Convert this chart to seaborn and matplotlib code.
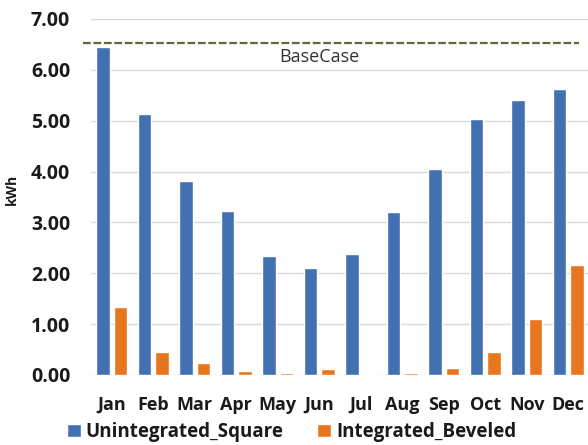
import matplotlib
matplotlib.use("Agg")
import matplotlib.pyplot as plt
import seaborn as sns
import pandas as pd

months = ["Jan", "Feb", "Mar", "Apr", "May", "Jun",
          "Jul", "Aug", "Sep", "Oct", "Nov", "Dec"]
unintegrated_square = [6.45, 5.14, 3.82, 3.22, 2.34, 2.11,
                       2.38, 3.21, 4.05, 5.04, 5.40, 5.63]
integrated_beveled = [1.33, 0.46, 0.23, 0.08, 0.03, 0.11,
                      0.01, 0.03, 0.13, 0.46, 1.11, 2.16]
series_names = ["Unintegrated_Square", "Integrated_Beveled"]
base_case = 6.52
y_ticks = [0, 1, 2, 3, 4, 5, 6, 7]

df = pd.DataFrame({
    "Month": months * 2,
    "kWh": unintegrated_square + integrated_beveled,
    "Series": [series_names[0]] * len(months) + [series_names[1]] * len(months),
})

sns.set_theme(style="white")
plt.rcParams["font.family"] = ["Open Sans", "DejaVu Sans"]

fig = plt.figure(figsize=(5.88, 4.45), dpi=100)
ax = fig.add_axes([91 / 588, 1 - 375 / 445, 498 / 588, 356 / 445])

palette = {series_names[0]: "#4270B0", series_names[1]: "#E8761E"}
sns.barplot(data=df, x="Month", y="kWh", hue="Series", order=months,
            hue_order=series_names, palette=palette, width=0.84, gap=0.23,
            saturation=1.0, ax=ax, zorder=3)

ax.set_ylim(0, 7)
ax.set_xlim(-0.5, 11.5)
ax.set_yticks(y_ticks)
ax.set_yticklabels([f"{v:.2f}" for v in y_ticks])
ax.yaxis.grid(True, color="#d9d9d9", linewidth=1.0, zorder=0)
ax.xaxis.grid(False)
for side in ["top", "right", "left", "bottom"]:
    ax.spines[side].set_visible(False)
ax.tick_params(axis="both", length=0, colors="#1a1a1a")
ax.tick_params(axis="x", pad=15, labelsize=13)
ax.tick_params(axis="y", pad=15, labelsize=14)
for lbl in ax.get_xticklabels() + ax.get_yticklabels():
    lbl.set_fontweight("bold")

ax.set_xlabel("")
ax.set_ylabel("kWh", fontsize=10, fontweight="bold", color="#1a1a1a")
ax.yaxis.set_label_coords(-0.145, 0.52)

# Base-case reference line
ax.axhline(base_case, xmin=-0.016, xmax=0.98, color="#66683a",
           linestyle=(0, (3.5, 1.2)), linewidth=1.6, clip_on=False, zorder=4)
ax.text(5.0, base_case - 0.27, "BaseCase", ha="center", va="center",
        fontsize=13, color="#333333")

sns.move_legend(ax, "center", bbox_to_anchor=(291.5 / 588, 1 - 432 / 445),
                bbox_transform=fig.transFigure,
                ncol=2, frameon=False, title=None,
                prop={"size": 13.5, "weight": "bold"},
                handlelength=0.75, handleheight=0.75, handletextpad=0.25,
                columnspacing=1.8, borderpad=0.2)
for t in ax.get_legend().get_texts():
    t.set_color("#1a1a1a")

fig.savefig("out.png", dpi=100)
